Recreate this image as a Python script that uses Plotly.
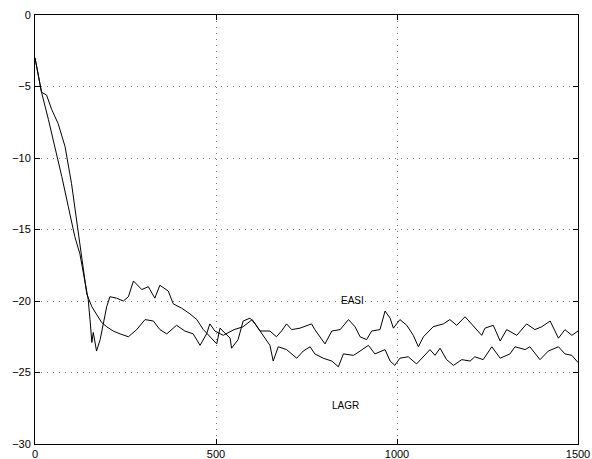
import plotly.graph_objects as go

# curve that drops fastest, bumps to about -19, then ends lower (LAGR)
lagr_x = [0, 18, 37, 55, 74, 92, 110, 124, 138, 147,
          152, 157, 161, 170, 180, 189, 198, 207, 225, 244,
          258, 272, 295, 313, 331, 345, 368, 382, 405, 428,
          447, 465, 483, 502, 511, 539, 543, 561, 575, 594,
          608, 631, 649, 658, 672, 695, 723, 741, 760, 773,
          796, 820, 838, 852, 880, 898, 921, 939, 967, 981,
          994, 1008, 1031, 1054, 1073, 1091, 1105, 1119, 1137, 1156,
          1179, 1202, 1215, 1238, 1262, 1285, 1312, 1326, 1354, 1367,
          1395, 1418, 1446, 1464, 1483, 1500]
lagr_y = [-3.0, -5.4, -7.3, -9.2, -11.3, -13.4, -15.5, -16.7, -18.5, -19.9,
          -21.3, -22.9, -22.2, -23.5, -22.7, -21.6, -20.4, -19.7, -19.8, -20.0,
          -19.7, -18.6, -19.2, -19.0, -19.8, -18.9, -19.3, -20.2, -20.5, -20.9,
          -21.3, -22.0, -22.5, -23.0, -21.9, -22.6, -23.3, -22.7, -21.4, -21.2,
          -21.6, -22.4, -23.1, -24.2, -23.2, -23.4, -24.0, -23.5, -23.2, -23.7,
          -24.0, -24.2, -24.6, -23.7, -23.8, -23.5, -23.1, -23.7, -23.4, -24.2,
          -24.5, -24.0, -23.9, -24.4, -23.9, -23.4, -23.8, -23.3, -24.1, -24.5,
          -24.1, -24.2, -23.9, -24.1, -23.2, -24.0, -23.7, -23.2, -23.4, -23.2,
          -24.1, -23.5, -23.2, -23.7, -23.8, -24.3]

# slower start, ends on top (EASI)
easi_x = [0, 18, 32, 46, 64, 83, 101, 115, 129, 138,
          143, 157, 170, 184, 198, 216, 235, 258, 281, 304,
          327, 345, 364, 391, 414, 437, 456, 474, 483, 497,
          520, 550, 575, 600, 622, 649, 667, 681, 695, 709,
          732, 764, 773, 801, 820, 843, 866, 884, 898, 916,
          930, 953, 967, 981, 990, 1008, 1027, 1045, 1059, 1073,
          1100, 1128, 1146, 1165, 1188, 1206, 1234, 1243, 1266, 1285,
          1303, 1331, 1358, 1381, 1400, 1423, 1446, 1464, 1483, 1500]
easi_y = [-3.0, -5.4, -5.6, -6.6, -7.6, -9.2, -11.8, -14.3, -16.7, -18.3,
          -19.5, -20.4, -20.9, -21.5, -21.8, -22.1, -22.3, -22.5, -22.0, -21.3,
          -21.4, -22.0, -22.3, -21.7, -22.1, -22.3, -23.1, -22.3, -21.6, -22.1,
          -22.4, -22.0, -21.8, -21.3, -22.1, -22.1, -22.5, -22.1, -21.6, -22.0,
          -21.9, -21.6, -22.0, -23.0, -22.1, -22.0, -21.3, -21.8, -22.5, -22.7,
          -22.1, -22.0, -20.7, -21.2, -21.9, -21.3, -21.7, -22.4, -23.2, -22.5,
          -21.8, -21.6, -21.3, -21.7, -21.1, -21.6, -22.4, -21.9, -21.7, -22.8,
          -22.0, -22.4, -21.6, -22.0, -21.8, -21.4, -22.6, -22.0, -22.4, -22.1]

x_ticks = [0, 500, 1000, 1500]
y_ticks = [0, -5, -10, -15, -20, -25, -30]

fig = go.Figure()
fig.add_trace(go.Scatter(x=easi_x, y=easi_y, mode="lines", name="EASI",
                         line=dict(color="black", width=1)))
fig.add_trace(go.Scatter(x=lagr_x, y=lagr_y, mode="lines", name="LAGR",
                         line=dict(color="black", width=1)))

# labels inside the axes
fig.add_annotation(x=876, y=-19.95, text="EASI", showarrow=False,
                   font=dict(size=10, color="black"))
fig.add_annotation(x=859, y=-27.3, text="LAGR", showarrow=False,
                   font=dict(size=10, color="black"))

axis_style = dict(showline=True, linecolor="black", linewidth=1, mirror="ticks",
                  ticks="inside", ticklen=5, tickcolor="black", automargin=False,
                  ticklabeloverflow="allow",
                  showgrid=True, gridcolor="#777777", griddash="1px,5px", gridwidth=1,
                  zeroline=False, tickfont=dict(size=11, color="black"))

fig.update_xaxes(range=[0, 1500], tickvals=x_ticks, ticklabelstandoff=0, **axis_style)
fig.update_yaxes(range=[-30, 0], tickvals=y_ticks, ticklabelstandoff=1, **axis_style)

fig.update_layout(width=592, height=459, showlegend=False,
                  plot_bgcolor="white", paper_bgcolor="white",
                  font=dict(family="Liberation Sans, Arial, sans-serif"),
                  margin=dict(l=35, r=14, t=15, b=15))

# drop the default body margin so the page is exactly the figure (no scrollbars)
fig.write_html("out.html", config={"displayModeBar": False},
               post_script="document.body.style.margin='0px';")
